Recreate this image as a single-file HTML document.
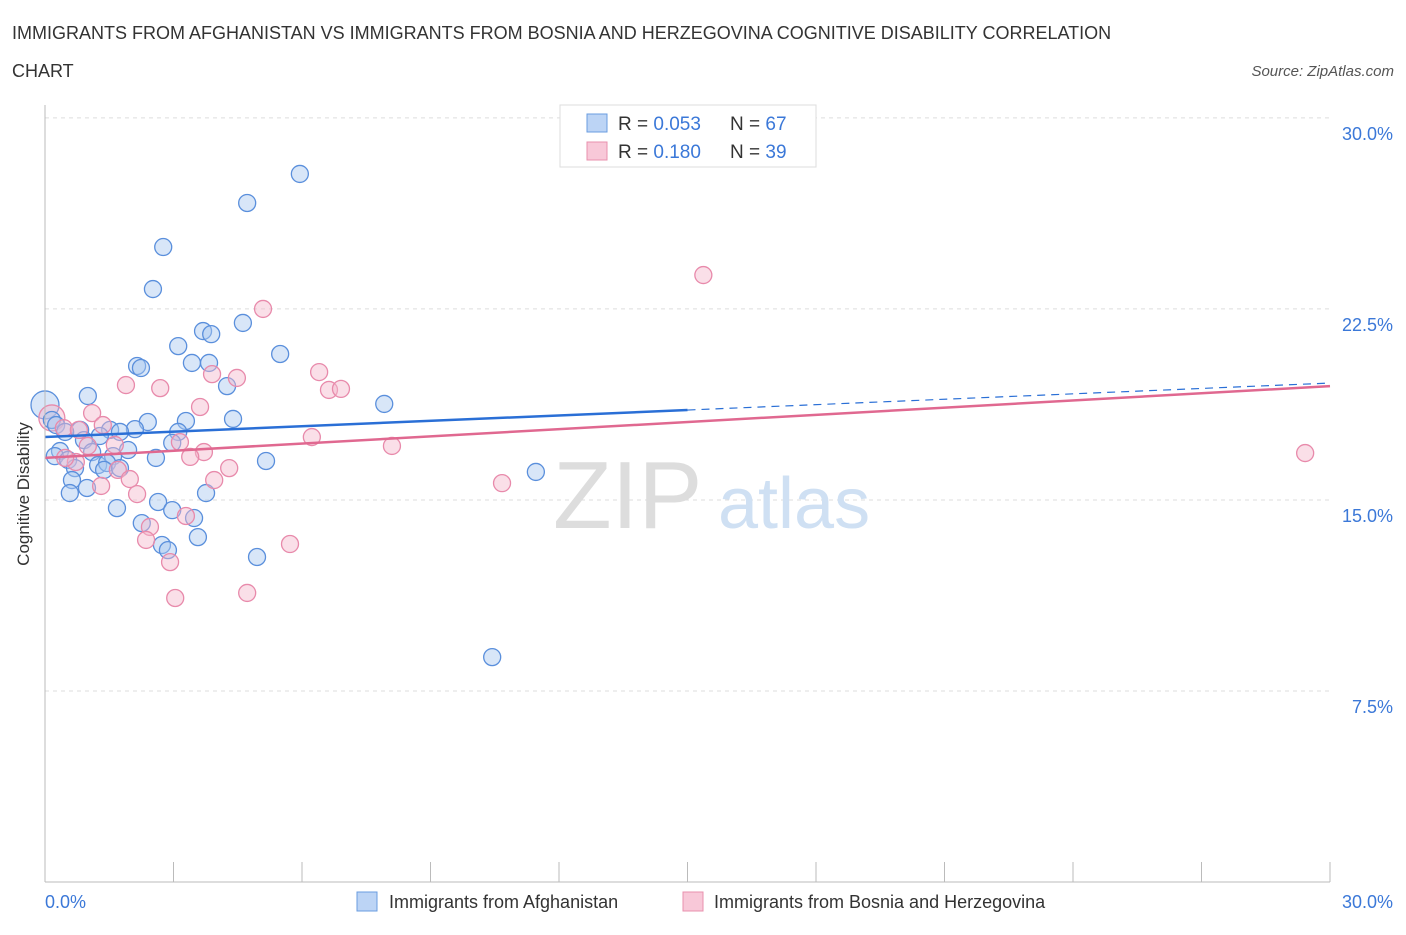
<!DOCTYPE html>
<html><head><meta charset="utf-8"><style>
body{margin:0;background:#fff;font-family:"Liberation Sans",sans-serif}
svg text{font-family:"Liberation Sans",sans-serif}
</style></head><body>
<svg id="chart" width="1406" height="930">
<text x="12" y="39" font-size="18" fill="#333">IMMIGRANTS FROM AFGHANISTAN VS IMMIGRANTS FROM BOSNIA AND HERZEGOVINA COGNITIVE DISABILITY CORRELATION</text>
<text x="12" y="77" font-size="18" fill="#333">CHART</text>
<text x="1394" y="76" font-size="15" fill="#555" font-style="italic" text-anchor="end">Source: ZipAtlas.com</text>
<g id="grid"></g>
<text x="553" y="528" font-size="96" fill="#ddd" font-family="Liberation Serif">ZIP</text>
<text x="718" y="528" font-size="72" fill="#cfe0f3">atlas</text>
<g id="pts"></g>
<g id="trends"></g>
<line x1="45" y1="105" x2="45" y2="882" stroke="#bbb"/>
<line x1="45" y1="882" x2="1330" y2="882" stroke="#bbb"/>
<text x="29" y="494" font-size="17" fill="#333" text-anchor="middle" transform="rotate(-90 29 494)">Cognitive Disability</text>
<text x="45" y="908" font-size="18" fill="#3b78d8">0.0%</text>
<text x="1393" y="908" font-size="18" fill="#3b78d8" text-anchor="end">30.0%</text>
<g>
<rect x="560" y="105" width="256" height="62" fill="#fff" stroke="#ddd"/>
<rect x="587" y="114" width="20" height="18" fill="#bcd4f5" stroke="#6a9ce0"/>
<rect x="587" y="142" width="20" height="18" fill="#f8c8d8" stroke="#e890ae"/>
<text x="618" y="130" font-size="19" fill="#333">R = <tspan fill="#3b78d8">0.053</tspan></text>
<text x="730" y="130" font-size="19" fill="#333">N = <tspan fill="#3b78d8">67</tspan></text>
<text x="618" y="158" font-size="19" fill="#333">R = <tspan fill="#3b78d8"> 0.180</tspan></text>
<text x="730" y="158" font-size="19" fill="#333">N = <tspan fill="#3b78d8">39</tspan></text>
</g>
<g>
<rect x="357" y="892" width="20" height="19" fill="#bcd4f5" stroke="#6a9ce0"/>
<text x="389" y="908" font-size="18" fill="#333">Immigrants from Afghanistan</text>
<rect x="683" y="892" width="20" height="19" fill="#f8c8d8" stroke="#e890ae"/>
<text x="714" y="908" font-size="18" fill="#333">Immigrants from Bosnia and Herzegovina</text>
</g>
</svg>
<script>
const yTicks=[7.5,15,22.5,30];
const yTickLabels=["7.5%","15.0%","22.5%","30.0%"];
const xTicks=[0,3,6,9,12,15,18,21,24,27,30];
const blueX=[5.95,4.72,2.76,2.52,4.62,3.69,3.88,3.11,5.49,2.15,2.24,3.43,3.83,4.25,1.00,7.92,0.16,4.39,2.40,3.29,0.26,2.10,1.52,1.75,0.82,3.11,1.28,0.91,2.97,1.94,0.35,1.10,0.23,0.54,1.59,2.59,5.16,1.24,1.45,0.70,1.38,1.75,11.46,0.63,0.98,0.58,3.76,2.64,1.68,2.97,3.48,2.26,3.57,2.73,2.87,4.95,10.44,0.47];
const blueY=[27.8,26.66,24.93,23.28,21.95,21.63,21.51,21.04,20.73,20.26,20.18,20.38,20.38,19.47,19.08,18.77,18.14,18.18,18.06,18.1,17.94,17.78,17.75,17.67,17.75,17.67,17.51,17.35,17.24,16.96,16.92,16.88,16.72,16.57,16.72,16.65,16.53,16.37,16.45,16.25,16.18,16.25,16.1,15.78,15.47,15.27,15.27,14.92,14.68,14.6,14.29,14.09,13.54,13.23,13.03,12.76,8.83,17.67];
const pinkX=[15.37,5.09,6.40,3.90,4.48,1.89,2.69,6.63,6.91,3.62,1.10,0.44,1.35,0.79,3.15,6.23,8.10,3.71,3.39,29.42,0.72,1.70,4.30,1.98,1.31,10.67,3.95,2.15,3.29,2.45,2.36,5.72,2.92,4.72,3.04,1.00,0.47,1.63];
const pinkY=[23.83,22.5,20.02,19.94,19.79,19.51,19.39,19.32,19.36,18.65,18.41,17.82,17.94,17.75,17.27,17.47,17.12,16.88,16.69,16.84,16.49,16.18,16.25,15.82,15.55,15.66,15.78,15.23,14.37,13.94,13.43,13.27,12.56,11.35,11.15,17.12,16.65,17.16];
const blueBig=[0,18.73];const pinkBig=[0.16,18.22];
const blueTrend=[17.47,19.59];const pinkTrend=[16.65,19.47];
const X=v=>45+v*1285/30, Y=v=>882-v*25.47;
const NS="http://www.w3.org/2000/svg";
function mk(t,a,p){const e=document.createElementNS(NS,t);for(const k in a)e.setAttribute(k,a[k]);p.appendChild(e);return e;}
const g=document.getElementById('grid');
yTicks.forEach((t,i)=>{
 const l=mk('line',{x1:45,x2:1330,y1:Y(t),y2:Y(t),stroke:'#ddd','stroke-dasharray':'4 4'},g);
 
 
 const tx=mk('text',{x:1393,y:Y(t)+22,'font-size':18,fill:'#3b78d8','text-anchor':'end'},g);
 tx.textContent=yTickLabels[i];
 
 
});
xTicks.forEach(t=>{
 const l=mk('line',{x1:X(t),x2:X(t),y1:862,y2:882,stroke:'#bbb'},g);
 
 
});
const p=document.getElementById('pts');
function dot(x,y,r,fill,stroke,name){const c=mk('circle',{cx:X(x),cy:Y(y),r:r,fill:fill,'fill-opacity':0.45,stroke:stroke,'stroke-width':1.3},p);
 
 }
dot(blueBig[0],blueBig[1],14,'#a9c8f0','#5a8fdc','point-afghanistan');
dot(pinkBig[0],pinkBig[1],13,'#f5b8cc','#e88aab','point-bosnia');
blueX.forEach((x,i)=>dot(x,blueY[i],8.5,'#a9c8f0','#5a8fdc','point-afghanistan'));
pinkX.forEach((x,i)=>dot(x,pinkY[i],8.5,'#f5b8cc','#e88aab','point-bosnia'));
const tr=document.getElementById('trends');
const bAt=v=>blueTrend[0]+(blueTrend[1]-blueTrend[0])*v/30;
let l1=mk('line',{x1:X(0),y1:Y(bAt(0)),x2:X(15),y2:Y(bAt(15)),stroke:'#2a6fd6','stroke-width':2.5},tr);


let l2=mk('line',{x1:X(15),y1:Y(bAt(15)),x2:X(30),y2:Y(bAt(30)),stroke:'#2a6fd6','stroke-width':1.2,'stroke-dasharray':'8 6'},tr);


let l3=mk('line',{x1:X(0),y1:Y(pinkTrend[0]),x2:X(30),y2:Y(pinkTrend[1]),stroke:'#e06890','stroke-width':2.5},tr);


</script>
</body></html>
